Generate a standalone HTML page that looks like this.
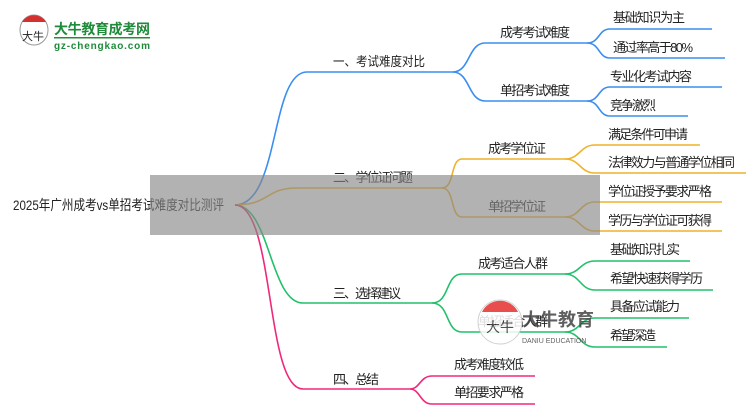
<!DOCTYPE html>
<html><head><meta charset="utf-8"><style>
html,body{margin:0;padding:0;background:#fff;}
svg{display:block;font-family:"Liberation Sans","Noto Sans CJK SC",sans-serif;font-size:13px;fill:#222;}
</style></head><body>
<svg width="750" height="410" viewBox="0 0 750 410" xmlns="http://www.w3.org/2000/svg">
<g fill="none" stroke-width="1.6">
<g stroke="#3a8ef0">
<path d="M235 205 C 280 205, 270 72, 307 72 L453 72"/>
<path d="M453 72 C 470 72, 468 43, 485 43 L587 43"/>
<path d="M453 72 C 470 72, 468 101, 485 101 L587 101"/>
<path d="M587 43 C 600 43, 598 29, 610 29 L712 29"/>
<path d="M587 43 C 600 43, 598 58, 610 58 L725 58"/>
<path d="M587 101 C 600 101, 598 87, 610 87 L722 87"/>
<path d="M587 101 C 600 101, 598 116, 610 116 L688 116"/>
</g>
<g stroke="#f0b22a">
<path d="M235 205 C 270 205, 265 188, 297 188 L442 188"/>
<path d="M442 188 C 455 188, 450 159, 462 159 L565 159"/>
<path d="M442 188 C 455 188, 450 217, 462 217 L565 217"/>
<path d="M565 159 C 580 159, 580 145, 595 145 L700 145"/>
<path d="M565 159 C 580 159, 580 173, 595 173 L746 173"/>
<path d="M565 217 C 580 217, 580 202, 595 202 L722 202"/>
<path d="M565 217 C 580 217, 580 231, 595 231 L722 231"/>
</g>
<g stroke="#22c06a">
<path d="M235 205 C 270 205, 270 303, 303 303 L432 303"/>
<path d="M432 303 C 450 303, 445 274, 462 274 L565 274"/>
<path d="M432 303 C 450 303, 445 332, 462 332 L565 332"/>
<path d="M565 274 C 580 274, 580 261, 595 261 L690 261"/>
<path d="M565 274 C 580 274, 580 290, 595 290 L713 290"/>
<path d="M565 332 C 580 332, 580 318, 595 318 L689 318"/>
<path d="M565 332 C 580 332, 580 347, 595 347 L667 347"/>
</g>
<g stroke="#f0287a">
<path d="M235 205 C 275 205, 265 389, 303 389 L410 389"/>
<path d="M410 389 C 420 389, 420 376, 432 376 L535 376"/>
<path d="M410 389 C 420 389, 420 404, 432 404 L535 404"/>
</g>
</g>
<text x="13" y="210" font-size="14" textLength="211" lengthAdjust="spacingAndGlyphs">2025年广州成考vs单招考试难度对比测评</text>
<text x="333" y="66" textLength="92" lengthAdjust="spacingAndGlyphs">一、考试难度对比</text>
<text x="500" y="37" textLength="70">成考考试难度</text>
<text x="500" y="95" textLength="70">单招考试难度</text>
<text x="613" y="22" textLength="72">基础知识为主</text>
<text x="613" y="52" textLength="80">通过率高于80%</text>
<text x="610" y="81" textLength="82">专业化考试内容</text>
<text x="610" y="110" textLength="46">竞争激烈</text>
<text x="333" y="182" textLength="80">二、学位证问题</text>
<text x="488" y="153" textLength="58">成考学位证</text>
<text x="488" y="211" textLength="58">单招学位证</text>
<text x="608" y="139" textLength="80">满足条件可申请</text>
<text x="608" y="167" textLength="127">法律效力与普通学位相同</text>
<text x="608" y="196" textLength="104">学位证授予要求严格</text>
<text x="608" y="225" textLength="104">学历与学位证可获得</text>
<text x="333" y="298" textLength="68">三、选择建议</text>
<text x="478" y="268" textLength="70">成考适合人群</text>
<text x="478" y="326" textLength="70">单招适合人群</text>
<text x="610" y="254" textLength="70">基础知识扎实</text>
<text x="610" y="283" textLength="93">希望快速获得学历</text>
<text x="610" y="311" textLength="70">具备应试能力</text>
<text x="610" y="340" textLength="46">希望深造</text>
<text x="333" y="384" textLength="46">四、总结</text>
<text x="454" y="369" textLength="70">成考难度较低</text>
<text x="454" y="397" textLength="70">单招要求严格</text>
<rect x="150" y="175" width="450" height="60" fill="#888" fill-opacity="0.65"/>
<g opacity="0.85">
<circle cx="500" cy="322" r="22" fill="#fff" stroke="#ccc"/>
<path d="M482 312 A20 20 0 0 1 518 312 Z" fill="#e43030"/>
<text x="486" y="332" font-size="14" fill="#333">大牛</text>
<text x="522" y="326" font-size="18" font-weight="bold" fill="#444">大牛教育</text>
<text x="522" y="343" font-size="7" fill="#444">DANIU EDUCATION</text>
</g>
<g>
<ellipse cx="34" cy="30" rx="14" ry="15" fill="#fff" stroke="#999"/>
<path d="M22 22 A14 14 0 0 1 46 22 Z" fill="#d43030"/>
<text x="22" y="40" font-size="11" fill="#222">大牛</text>
<text x="54" y="34" font-size="14" font-weight="bold" fill="#1f8a3a" textLength="96">大牛教育成考网</text>
<rect x="54" y="37" width="96" height="1.5" fill="#2a8a3a"/>
<text x="54" y="49" font-size="10" font-weight="bold" fill="#1f8a3a" textLength="96">gz-chengkao.com</text>
</g>
</svg>
</body></html>
